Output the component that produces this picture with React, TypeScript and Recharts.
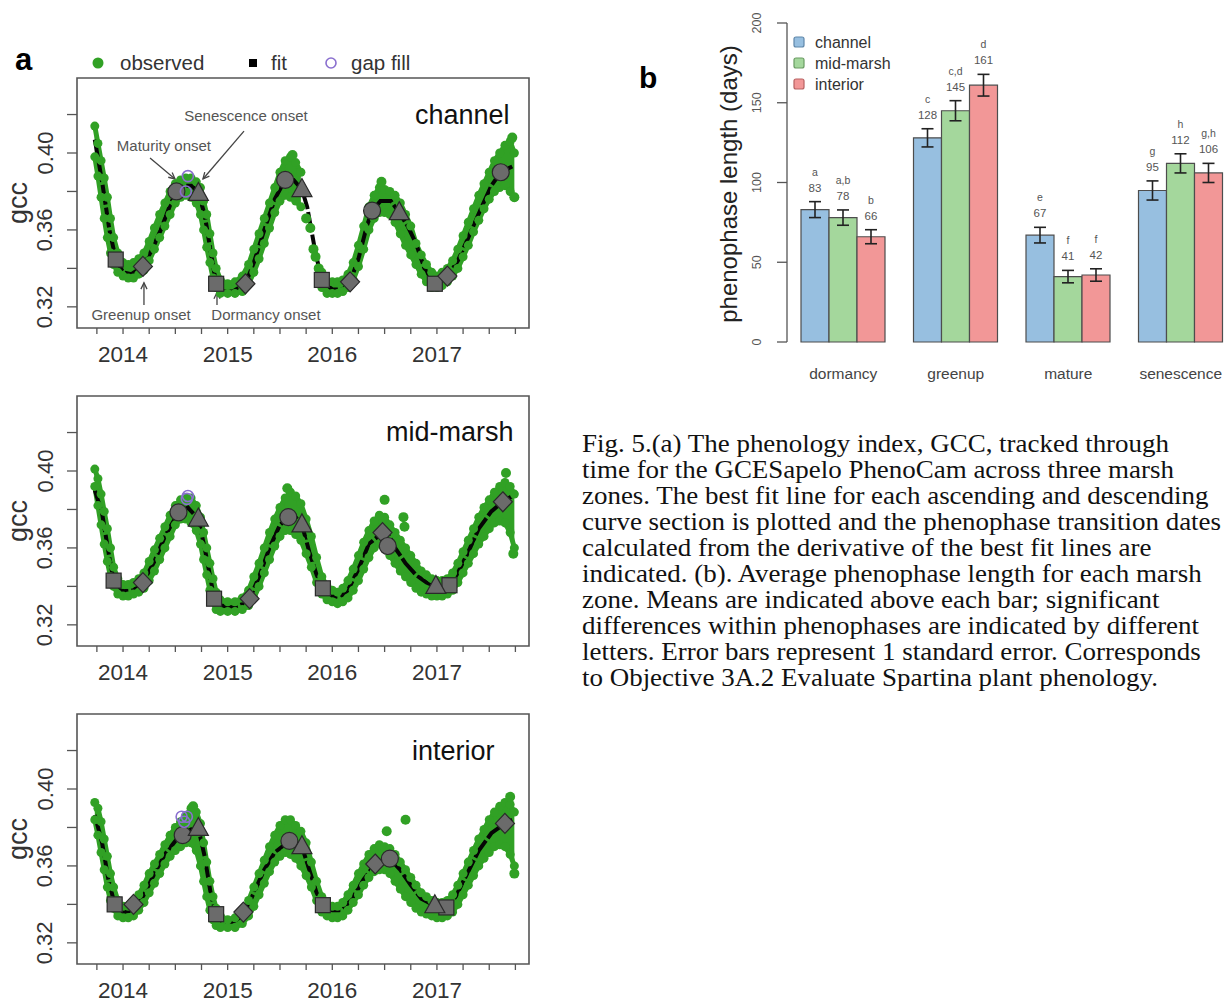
import React from "react";
import {
  ComposedChart,
  Line,
  Area,
  Scatter,
  XAxis,
  YAxis,
  ReferenceArea,
  ReferenceLine,
  ReferenceDot,
  BarChart,
  Bar,
  ErrorBar,
} from "recharts";

type Pt = [number, number];

const FONT = "'Liberation Sans', Arial, Helvetica, sans-serif";
const SERIF = "'Liberation Serif', 'Times New Roman', serif";
const GREEN = "#31a125";
const AXIS = "#555";
const MARK_FILL = "#6b6b6b";
const MARK_STROKE = "#2a2a2a";
const GAP = "#8a6fcf";

// ---- panel a: gcc time series ----
const X_DOMAIN: [number, number] = [2013.56, 2017.88];
const X_TICKS = [
  2013.75, 2014, 2014.25, 2014.5, 2014.75, 2015, 2015.25, 2015.5, 2015.75,
  2016, 2016.25, 2016.5, 2016.75, 2017, 2017.25, 2017.5, 2017.75,
];
const Y_DOMAIN: [number, number] = [0.309, 0.439];
const Y_TICKS = [0.32, 0.34, 0.36, 0.38, 0.4, 0.42];
const Y_LABELED = [0.32, 0.36, 0.4];

const OBS_T = [
  2013.73, 2013.76, 2013.79, 2013.82, 2013.85, 2013.88, 2013.91, 2013.95,
  2014.0, 2014.05, 2014.1, 2014.15, 2014.2, 2014.25, 2014.3, 2014.35, 2014.4,
  2014.45, 2014.5, 2014.55, 2014.6, 2014.65, 2014.7, 2014.74, 2014.77, 2014.8,
  2014.83, 2014.86, 2014.89, 2014.93, 2015.0, 2015.07, 2015.14, 2015.2,
  2015.25, 2015.3, 2015.35, 2015.4, 2015.45, 2015.5, 2015.55, 2015.6, 2015.65,
  2015.7, 2015.75, 2015.8, 2015.85, 2015.9, 2015.95, 2016.0, 2016.05, 2016.1,
  2016.15, 2016.2, 2016.25, 2016.3, 2016.35, 2016.4, 2016.45, 2016.5, 2016.55,
  2016.6, 2016.65, 2016.7, 2016.75, 2016.8, 2016.85, 2016.9, 2016.95, 2017.0,
  2017.05, 2017.1, 2017.15, 2017.2, 2017.25, 2017.3, 2017.35, 2017.4, 2017.45,
  2017.5, 2017.55, 2017.6, 2017.65, 2017.7, 2017.74,
];

const CH_LO = [
  0.398, 0.388, 0.377, 0.366, 0.356, 0.348, 0.342, 0.338, 0.336, 0.335, 0.335,
  0.337, 0.339, 0.344, 0.35, 0.356, 0.362, 0.368, 0.374, 0.377, 0.378, 0.377,
  0.374, 0.368, 0.36, 0.351, 0.343, 0.335, 0.33, 0.327, 0.327, 0.327, 0.328,
  0.332, 0.338, 0.345, 0.353, 0.361, 0.369, 0.375, 0.378, 0.377, 0.375, 0.372,
  null, null, null, 0.33, 0.327, 0.327, 0.327, 0.328, 0.33, 0.334, 0.341, 0.35,
  0.36, 0.366, 0.369, 0.369, 0.368, 0.364, 0.358, 0.352, 0.347, 0.342, 0.337,
  0.333, 0.33, 0.33, 0.331, 0.333, 0.336, 0.34, 0.346, 0.352, 0.359, 0.365,
  0.371, 0.376, 0.38, 0.382, 0.383, 0.38, 0.377,
];
const CH_HI = [
  0.414, 0.405, 0.396, 0.387, 0.377, 0.366, 0.356, 0.348, 0.343, 0.342, 0.343,
  0.345, 0.348, 0.354, 0.361, 0.368, 0.374, 0.38, 0.384, 0.386, 0.387, 0.387,
  0.385, 0.382, 0.375, 0.368, 0.358, 0.348, 0.34, 0.334, 0.332, 0.333, 0.336,
  0.342, 0.35, 0.358, 0.366, 0.374, 0.382, 0.39, 0.396, 0.398, 0.395, 0.39,
  null, null, null, 0.338, 0.333, 0.333, 0.333, 0.334, 0.337, 0.343, 0.352,
  0.362, 0.372, 0.378, 0.382, 0.381, 0.38, 0.378, 0.374, 0.368, 0.362, 0.353,
  0.347, 0.342, 0.338, 0.336, 0.338, 0.34, 0.344, 0.35, 0.357, 0.364, 0.371,
  0.378, 0.384, 0.39, 0.396, 0.4, 0.404, 0.406, 0.4,
];
const CH_EXTRA: Pt[] = [
  [2015.75, 0.366], [2015.79, 0.361], [2015.82, 0.35], [2015.84, 0.346],
  [2015.87, 0.34], [2015.62, 0.399], [2016.47, 0.385], [2017.74, 0.377],
  [2017.72, 0.408],
];
const CH_FIT: Pt[] = [
  [2013.73, 0.407], [2013.8, 0.385], [2013.87, 0.36], [2013.93, 0.345],
  [2014.0, 0.338], [2014.08, 0.337], [2014.19, 0.341], [2014.28, 0.35],
  [2014.36, 0.36], [2014.45, 0.373], [2014.51, 0.38], [2014.58, 0.383],
  [2014.66, 0.383], [2014.72, 0.379], [2014.78, 0.368], [2014.84, 0.348],
  [2014.89, 0.332], [2014.95, 0.328], [2015.05, 0.328], [2015.17, 0.332],
  [2015.25, 0.343], [2015.35, 0.36], [2015.45, 0.376], [2015.55, 0.386],
  [2015.63, 0.386], [2015.71, 0.381], [2015.76, 0.372], [2015.84, 0.348],
  [2015.9, 0.334], [2016.0, 0.329], [2016.1, 0.329], [2016.17, 0.333],
  [2016.25, 0.345], [2016.33, 0.362], [2016.38, 0.37], [2016.46, 0.375],
  [2016.56, 0.375], [2016.64, 0.369], [2016.72, 0.362], [2016.8, 0.353],
  [2016.88, 0.34], [2016.98, 0.332], [2017.05, 0.333], [2017.1, 0.336],
  [2017.2, 0.344], [2017.3, 0.356], [2017.42, 0.371], [2017.52, 0.383],
  [2017.61, 0.39], [2017.72, 0.393],
];
const CH_DORM: Pt[] = [[2013.93, 0.3446], [2014.89, 0.332], [2015.9, 0.334], [2016.98, 0.332]];
const CH_GREEN: Pt[] = [[2014.19, 0.341], [2015.17, 0.332], [2016.17, 0.333], [2017.1, 0.336]];
const CH_MATURE: Pt[] = [[2014.51, 0.38], [2015.55, 0.386], [2016.38, 0.37], [2017.61, 0.39]];
const CH_SENES: Pt[] = [[2014.72, 0.379], [2015.71, 0.381], [2016.64, 0.369]];
const CH_GAP: Pt[] = [[2014.62, 0.388], [2014.6, 0.38]];

const MID_LO = [
  0.392, 0.382, 0.372, 0.362, 0.353, 0.345, 0.34, 0.336, 0.335, 0.335, 0.336,
  0.337, 0.339, 0.343, 0.348, 0.354, 0.36, 0.366, 0.372, 0.375, 0.375, 0.373,
  0.369, 0.362, 0.354, 0.346, 0.338, 0.332, 0.328, 0.327, 0.327, 0.327, 0.328,
  0.33, 0.334, 0.34, 0.347, 0.354, 0.361, 0.366, 0.369, 0.369, 0.367, 0.364,
  0.357, 0.35, 0.342, 0.336, 0.333, 0.332, 0.331, 0.332, 0.334, 0.338, 0.343,
  0.349, 0.355, 0.36, 0.362, 0.36, 0.356, 0.352, 0.348, 0.345, 0.342, 0.339,
  0.337, 0.336, 0.335, 0.335, 0.335, 0.336, 0.338, 0.342, 0.347, 0.352, 0.357,
  0.362, 0.366, 0.37, 0.373, 0.374, 0.373, 0.368, 0.36,
];
const MID_HI = [
  0.401, 0.396, 0.388, 0.379, 0.37, 0.36, 0.35, 0.344, 0.341, 0.341, 0.342,
  0.344, 0.347, 0.353, 0.359, 0.365, 0.371, 0.377, 0.382, 0.385, 0.386, 0.386,
  0.382, 0.376, 0.368, 0.36, 0.352, 0.344, 0.337, 0.333, 0.332, 0.332, 0.334,
  0.338, 0.345, 0.352, 0.36, 0.368, 0.375, 0.381, 0.386, 0.389, 0.387, 0.383,
  0.375, 0.366, 0.355, 0.345, 0.34, 0.338, 0.337, 0.339, 0.343, 0.349, 0.356,
  0.363, 0.369, 0.374, 0.377, 0.376, 0.372, 0.368, 0.364, 0.36, 0.356, 0.352,
  0.348, 0.346, 0.344, 0.343, 0.343, 0.344, 0.347, 0.352, 0.358, 0.364, 0.37,
  0.376, 0.381, 0.385, 0.389, 0.392, 0.394, 0.392, 0.388,
];
const MID_EXTRA: Pt[] = [
  [2016.5, 0.385], [2016.68, 0.376], [2016.69, 0.371], [2017.73, 0.357],
  [2017.66, 0.399], [2015.57, 0.391],
];
const MID_FIT: Pt[] = [
  [2013.73, 0.39], [2013.8, 0.378], [2013.86, 0.358], [2013.91, 0.343],
  [2014.0, 0.3375], [2014.1, 0.338], [2014.19, 0.342], [2014.3, 0.353],
  [2014.4, 0.366], [2014.53, 0.3785], [2014.62, 0.381], [2014.72, 0.375],
  [2014.78, 0.36], [2014.84, 0.343], [2014.87, 0.3336], [2014.95, 0.33],
  [2015.05, 0.329], [2015.15, 0.331], [2015.21, 0.3336], [2015.3, 0.345],
  [2015.4, 0.36], [2015.5, 0.372], [2015.58, 0.376], [2015.65, 0.376],
  [2015.71, 0.372], [2015.78, 0.358], [2015.85, 0.346], [2015.91, 0.339],
  [2016.0, 0.335], [2016.07, 0.3345], [2016.15, 0.338], [2016.25, 0.349],
  [2016.35, 0.362], [2016.48, 0.368], [2016.52, 0.369], [2016.6, 0.36],
  [2016.7, 0.352], [2016.8, 0.346], [2016.9, 0.342], [2016.99, 0.34],
  [2017.12, 0.3406], [2017.2, 0.347], [2017.3, 0.358], [2017.4, 0.37],
  [2017.52, 0.379], [2017.63, 0.384], [2017.72, 0.387],
];
const MID_DORM: Pt[] = [[2013.91, 0.343], [2014.87, 0.3336], [2015.91, 0.339], [2017.12, 0.3406]];
const MID_GREEN: Pt[] = [[2014.19, 0.342], [2015.21, 0.3336], [2016.48, 0.368], [2017.63, 0.384]];
const MID_MATURE: Pt[] = [[2014.53, 0.3785], [2015.58, 0.376], [2016.53, 0.361]];
const MID_SENES: Pt[] = [[2014.72, 0.375], [2015.71, 0.372], [2016.99, 0.34]];
const MID_GAP: Pt[] = [[2014.62, 0.387], [2014.61, 0.3855]];

const INT_LO = [
  0.384, 0.376, 0.367, 0.358, 0.349, 0.342, 0.338, 0.334, 0.333, 0.333, 0.334,
  0.337, 0.341, 0.346, 0.351, 0.356, 0.361, 0.365, 0.368, 0.37, 0.372, 0.372,
  0.368, 0.36, 0.352, 0.344, 0.337, 0.332, 0.329, 0.328, 0.328, 0.328, 0.33,
  0.334, 0.339, 0.345, 0.351, 0.357, 0.362, 0.365, 0.367, 0.366, 0.364, 0.36,
  0.355, 0.349, 0.342, 0.336, 0.334, 0.333, 0.333, 0.334, 0.337, 0.341, 0.345,
  0.35, 0.354, 0.357, 0.358, 0.358, 0.356, 0.352, 0.348, 0.344, 0.341, 0.338,
  0.336, 0.335, 0.334, 0.333, 0.333, 0.334, 0.336, 0.34, 0.345, 0.35, 0.355,
  0.36, 0.364, 0.367, 0.37, 0.371, 0.37, 0.366, 0.36,
];
const INT_HI = [
  0.393, 0.39, 0.383, 0.374, 0.365, 0.356, 0.349, 0.342, 0.339, 0.339, 0.341,
  0.345, 0.35, 0.356, 0.361, 0.366, 0.371, 0.376, 0.38, 0.383, 0.386, 0.39,
  0.388, 0.382, 0.372, 0.362, 0.352, 0.344, 0.338, 0.334, 0.332, 0.333, 0.336,
  0.342, 0.349, 0.356, 0.363, 0.37, 0.376, 0.381, 0.384, 0.384, 0.381, 0.378,
  0.372, 0.362, 0.352, 0.344, 0.34, 0.339, 0.339, 0.341, 0.345, 0.35, 0.356,
  0.361, 0.366, 0.369, 0.371, 0.37, 0.369, 0.366, 0.362, 0.358, 0.354, 0.35,
  0.346, 0.344, 0.342, 0.341, 0.341, 0.342, 0.345, 0.35, 0.356, 0.362, 0.368,
  0.374, 0.379, 0.384, 0.388, 0.391, 0.393, 0.392, 0.388,
];
const INT_EXTRA: Pt[] = [
  [2014.67, 0.391], [2016.52, 0.378], [2016.7, 0.384], [2017.74, 0.356],
  [2017.7, 0.396],
];
const INT_FIT: Pt[] = [
  [2013.73, 0.3865], [2013.8, 0.372], [2013.86, 0.353], [2013.92, 0.34],
  [2014.0, 0.336], [2014.1, 0.337], [2014.2, 0.345], [2014.3, 0.356],
  [2014.4, 0.366], [2014.5, 0.373], [2014.57, 0.376], [2014.65, 0.379],
  [2014.72, 0.3795], [2014.78, 0.365], [2014.84, 0.345], [2014.89, 0.3349],
  [2014.95, 0.331], [2015.05, 0.331], [2015.15, 0.334], [2015.25, 0.346],
  [2015.35, 0.358], [2015.45, 0.367], [2015.59, 0.373], [2015.65, 0.372],
  [2015.71, 0.37], [2015.78, 0.358], [2015.85, 0.346], [2015.91, 0.3396],
  [2016.0, 0.337], [2016.08, 0.337], [2016.18, 0.342], [2016.3, 0.353],
  [2016.41, 0.361], [2016.55, 0.3638], [2016.65, 0.358], [2016.75, 0.35],
  [2016.85, 0.343], [2016.98, 0.3393], [2017.09, 0.3384], [2017.18, 0.344],
  [2017.28, 0.355], [2017.4, 0.368], [2017.52, 0.377], [2017.65, 0.3821],
  [2017.72, 0.384],
];
const INT_DORM: Pt[] = [[2013.92, 0.34], [2014.89, 0.3349], [2015.91, 0.3396], [2017.09, 0.3384]];
const INT_GREEN: Pt[] = [[2014.1, 0.34], [2015.15, 0.336], [2016.41, 0.361], [2017.65, 0.3821]];
const INT_MATURE: Pt[] = [[2014.57, 0.376], [2015.59, 0.373], [2016.55, 0.3638]];
const INT_SENES: Pt[] = [[2014.72, 0.3795], [2015.71, 0.37], [2016.98, 0.3393]];
const INT_GAP: Pt[] = [[2014.56, 0.3856], [2014.61, 0.3856], [2014.585, 0.383]];

// annotations of the channel panel (text centre, arrow tail -> head)
const NOTE_TEXT = ["Senescence onset", "Maturity onset", "Greenup onset", "Dormancy onset"];
const NOTE_POS: Pt[] = [[2015.175, 0.4192], [2014.391, 0.4036], [2014.172, 0.3158], [2015.366, 0.3158]];
const NOTE_ARROWS: [Pt, Pt][] = [
  [[2015.156, 0.4114], [2014.764, 0.3865]],
  [[2014.258, 0.3974], [2014.497, 0.3865]],
  [[2014.2, 0.321], [2014.2, 0.3325]],
  [[2014.898, 0.321], [2014.898, 0.3275]],
];

// ---- panel b: phenophase length ----
const PHASES = ["dormancy", "greenup", "mature", "senescence"];
const CH_MEAN = [83, 128, 67, 95];
const MID_MEAN = [78, 145, 41, 112];
const INT_MEAN = [66, 161, 42, 106];
const CH_SE = [5, 5.7, 4.9, 6];
const MID_SE = [4.8, 6.3, 3.9, 6];
const INT_SE = [4.4, 6.8, 3.9, 6];
const CH_LET = ["a", "c", "e", "g"];
const MID_LET = ["a,b", "c,d", "f", "h"];
const INT_LET = ["b", "d", "f", "g,h"];
const DAY_TICKS = [0, 50, 100, 150, 200];

const CAPTION = [
  "Fig. 5.(a) The phenology index, GCC, tracked through",
  "time for the GCESapelo PhenoCam across three marsh",
  "zones. The best fit line for each ascending and descending",
  "curve section is plotted and the phenophase transition dates",
  "calculated from the derivative of the best fit lines are",
  "indicated. (b). Average phenophase length for each marsh",
  "zone. Means are indicated above each bar; significant",
  "differences within phenophases are indicated by different",
  "letters. Error bars represent 1 standard error. Corresponds",
  "to Objective 3A.2 Evaluate Spartina plant phenology.",
];

const toPts = (arr: Pt[]) => arr.map(([t, g]) => ({ t, g }));

function YearTick(props: any) {
  const { x, y, payload } = props;
  const v = payload.value;
  if (Math.abs(v - Math.round(v)) > 1e-6) return <g />;
  return (
    <text x={x} y={y + 20} textAnchor="middle" dominantBaseline="central" fontSize={22.5} fontFamily={FONT} fill="#333">
      {Math.round(v)}
    </text>
  );
}

function GccTick(props: any) {
  const { x, y, payload } = props;
  const v = payload.value;
  if (!Y_LABELED.some((s) => Math.abs(s - v) < 1e-6)) return <g />;
  const tx = x - 22;
  return (
    <text x={tx} y={y} transform={`rotate(-90 ${tx} ${y})`} textAnchor="middle" dominantBaseline="central" fontSize={22} fontFamily={FONT} fill="#333">
      {v.toFixed(2)}
    </text>
  );
}

const squareShape = (p: any) => (
  <rect x={p.cx - 7.5} y={p.cy - 7.5} width={15} height={15} fill={MARK_FILL} stroke={MARK_STROKE} strokeWidth={1.2} />
);
const circleShape = (p: any) => (
  <circle cx={p.cx} cy={p.cy} r={8.5} fill={MARK_FILL} stroke={MARK_STROKE} strokeWidth={1.2} />
);
const diamondShape = (p: any) => (
  <polygon
    points={`${p.cx},${p.cy - 10} ${p.cx + 9.5},${p.cy} ${p.cx},${p.cy + 10} ${p.cx - 9.5},${p.cy}`}
    fill={MARK_FILL}
    stroke={MARK_STROKE}
    strokeWidth={1.2}
  />
);
const triangleShape = (p: any) => (
  <polygon
    points={`${p.cx},${p.cy - 11} ${p.cx + 10},${p.cy + 7} ${p.cx - 10},${p.cy + 7}`}
    fill={MARK_FILL}
    stroke={MARK_STROKE}
    strokeWidth={1.2}
  />
);
const gapShape = (p: any) => <circle cx={p.cx} cy={p.cy} r={5.5} fill="none" stroke={GAP} strokeWidth={1.6} />;
const obsShape = (p: any) => <circle cx={p.cx} cy={p.cy} r={5} fill={GREEN} />;

function ArrowShape(p: any) {
  const { x1, y1, x2, y2 } = p;
  const a = Math.atan2(y2 - y1, x2 - x1);
  const h = 7;
  const l = `${x2 - h * Math.cos(a - 0.45)},${y2 - h * Math.sin(a - 0.45)}`;
  const r = `${x2 - h * Math.cos(a + 0.45)},${y2 - h * Math.sin(a + 0.45)}`;
  return (
    <g>
      <line x1={x1} y1={y1} x2={x2} y2={y2} stroke="#444" strokeWidth={1.3} />
      <polyline points={`${l} ${x2},${y2} ${r}`} fill="none" stroke="#444" strokeWidth={1.3} />
    </g>
  );
}

interface PanelProps {
  lo: (number | null)[];
  hi: (number | null)[];
  extra: Pt[];
  fit: Pt[];
  dorm: Pt[];
  green: Pt[];
  mature: Pt[];
  senes: Pt[];
  gap: Pt[];
  notes?: boolean;
}

function GccPanel({ lo, hi, extra, fit, dorm, green, mature, senes, gap, notes }: PanelProps) {
  const loData = OBS_T.map((t, i) => ({ t, g: lo[i] }));
  const hiData = OBS_T.map((t, i) => ({ t, g: hi[i] }));
  const rangeData = OBS_T.map((t, i) => ({
    t,
    r: lo[i] == null || hi[i] == null ? null : [lo[i], hi[i]],
  }));
  const edge = {
    type: "linear" as const,
    dataKey: "g",
    stroke: GREEN,
    strokeWidth: 5,
    strokeLinejoin: "round" as const,
    strokeLinecap: "round" as const,
    dot: { r: 4.5, fill: GREEN, stroke: "none" },
    activeDot: false,
    connectNulls: false,
    isAnimationActive: false,
  };
  return (
    <ComposedChart width={560} height={340} margin={{ top: 40, right: 31, bottom: 0, left: 76 }}>
      <XAxis
        type="number"
        dataKey="t"
        domain={X_DOMAIN}
        ticks={X_TICKS}
        interval={0}
        allowDataOverflow
        axisLine={false}
        tickSize={6}
        tickMargin={0}
        tickLine={{ stroke: AXIS, strokeWidth: 1.3 }}
        height={50}
        tick={<YearTick />}
      />
      <YAxis
        type="number"
        dataKey="g"
        domain={Y_DOMAIN}
        ticks={Y_TICKS}
        interval={0}
        allowDataOverflow
        width={1}
        axisLine={false}
        tickSize={10}
        tickMargin={0}
        tickLine={{ stroke: AXIS, strokeWidth: 1.3 }}
        tick={<GccTick />}
      />
      <Area
        data={rangeData}
        dataKey="r"
        type="linear"
        fill={GREEN}
        fillOpacity={1}
        stroke="none"
        connectNulls={false}
        activeDot={false}
        isAnimationActive={false}
      />
      <Line data={loData} {...edge} />
      <Line data={hiData} {...edge} />
      <Scatter data={toPts(extra)} shape={obsShape} isAnimationActive={false} />
      <Line
        data={toPts(fit)}
        dataKey="g"
        type="linear"
        stroke="#050505"
        strokeWidth={4}
        strokeDasharray="20 3"
        dot={false}
        activeDot={false}
        isAnimationActive={false}
      />
      <Scatter data={toPts(dorm)} shape={squareShape} isAnimationActive={false} />
      <Scatter data={toPts(green)} shape={diamondShape} isAnimationActive={false} />
      <Scatter data={toPts(mature)} shape={circleShape} isAnimationActive={false} />
      <Scatter data={toPts(senes)} shape={triangleShape} isAnimationActive={false} />
      <Scatter data={toPts(gap)} shape={gapShape} isAnimationActive={false} />
      {notes &&
        NOTE_ARROWS.map(([a, b], i) => (
          <ReferenceLine
            key={`ar${i}`}
            segment={[
              { x: a[0], y: a[1] },
              { x: b[0], y: b[1] },
            ]}
            shape={ArrowShape}
            ifOverflow="visible"
          />
        ))}
      {notes &&
        NOTE_POS.map(([t, g], i) => (
          <ReferenceDot
            key={`nt${i}`}
            x={t}
            y={g}
            r={0}
            fill="none"
            stroke="none"
            ifOverflow="visible"
            label={{ value: NOTE_TEXT[i], position: "center", fill: "#555", fontSize: 15, fontFamily: FONT }}
          />
        ))}
      <ReferenceArea
        x1={X_DOMAIN[0]}
        x2={X_DOMAIN[1]}
        y1={Y_DOMAIN[0]}
        y2={Y_DOMAIN[1]}
        fill="none"
        stroke={AXIS}
        strokeWidth={1.6}
        ifOverflow="visible"
      />
    </ComposedChart>
  );
}

// ---- bar chart helpers ----
const PLOT_B_H = 319;
const PX_PER_DAY = PLOT_B_H / 200;

function makeBarLabel(means: number[], se: number[], letters: string[]) {
  return (p: any) => {
    const vb = p.viewBox || p;
    const idx = typeof p.index === "number" ? p.index : means.indexOf(p.value);
    if (idx < 0) return <g />;
    const cx = vb.x + vb.width / 2;
    const top = Math.min(vb.y, vb.y + vb.height) - se[idx] * PX_PER_DAY;
    return (
      <g fontFamily={FONT} fill="#555" textAnchor="middle">
        <text x={cx} y={top - 10} fontSize={11.5}>
          {means[idx]}
        </text>
        <text x={cx} y={top - 26} fontSize={10.5}>
          {letters[idx]}
        </text>
      </g>
    );
  };
}

function PhaseTick(props: any) {
  const { x, y, payload } = props;
  return (
    <text x={x} y={y + 31} textAnchor="middle" dominantBaseline="central" fontSize={15.5} fontFamily={FONT} fill="#444">
      {payload.value}
    </text>
  );
}

function DaysTick(props: any) {
  const { x, y, payload } = props;
  const tx = x - 20;
  return (
    <text x={tx} y={y} transform={`rotate(-90 ${tx} ${y})`} textAnchor="middle" dominantBaseline="central" fontSize={12.5} fontFamily={FONT} fill="#555">
      {payload.value}
    </text>
  );
}

function PhaseBars() {
  const data = PHASES.map((phase, i) => ({
    phase,
    ch: CH_MEAN[i],
    chSe: CH_SE[i],
    mid: MID_MEAN[i],
    midSe: MID_SE[i],
    int: INT_MEAN[i],
    intSe: INT_SE[i],
  }));
  const err = { width: 6, stroke: "#222", strokeWidth: 1.6, direction: "y" as const };
  return (
    <BarChart
      width={560}
      height={382}
      data={data}
      margin={{ top: 23, right: 3, bottom: 0, left: 106 }}
      barCategoryGap={14}
      barGap={0}
    >
      <XAxis dataKey="phase" axisLine={false} tickLine={false} tickSize={0} tickMargin={0} height={40} interval={0} tick={<PhaseTick />} />
      <YAxis
        domain={[0, 200]}
        ticks={DAY_TICKS}
        interval={0}
        width={1}
        tickSize={10}
        tickMargin={0}
        axisLine={{ stroke: AXIS, strokeWidth: 1.3 }}
        tickLine={{ stroke: AXIS, strokeWidth: 1.3 }}
        tick={<DaysTick />}
      />
      <Bar dataKey="ch" fill="#97bfe0" stroke="#4d4d4d" strokeWidth={1.2} isAnimationActive={false} label={makeBarLabel(CH_MEAN, CH_SE, CH_LET)}>
        <ErrorBar dataKey="chSe" {...err} />
      </Bar>
      <Bar dataKey="mid" fill="#a4d79c" stroke="#4d4d4d" strokeWidth={1.2} isAnimationActive={false} label={makeBarLabel(MID_MEAN, MID_SE, MID_LET)}>
        <ErrorBar dataKey="midSe" {...err} />
      </Bar>
      <Bar dataKey="int" fill="#f29797" stroke="#4d4d4d" strokeWidth={1.2} isAnimationActive={false} label={makeBarLabel(INT_MEAN, INT_SE, INT_LET)}>
        <ErrorBar dataKey="intSe" {...err} />
      </Bar>
    </BarChart>
  );
}

function Overlay() {
  const zoneNames = [
    { name: "channel", x: 415, y: 124 },
    { name: "mid-marsh", x: 386, y: 441 },
    { name: "interior", x: 412, y: 760 },
  ];
  const gccCenters = [203, 521, 839];
  const legB = [
    { name: "channel", fill: "#97bfe0", stroke: "#5f87aa" },
    { name: "mid-marsh", fill: "#a4d79c", stroke: "#6a9c63" },
    { name: "interior", fill: "#f29797", stroke: "#b86262" },
  ];
  return (
    <svg width={1228} height={1003} style={{ position: "absolute", left: 0, top: 0, pointerEvents: "none" }}>
      <g fontFamily={FONT}>
        <text x={15} y={70} fontSize={31} fontWeight="bold" fill="#000">a</text>
        <text x={639} y={88} fontSize={30} fontWeight="bold" fill="#000">b</text>

        <circle cx={98} cy={63} r={5.5} fill={GREEN} />
        <text x={120} y={70} fontSize={20.5} fill="#333">observed</text>
        <rect x={249} y={59} width={8} height={8} fill="#000" />
        <text x={271} y={70} fontSize={20.5} fill="#333">fit</text>
        <circle cx={331} cy={63} r={5} fill="none" stroke={GAP} strokeWidth={1.6} />
        <text x={351} y={70} fontSize={20.5} fill="#333">gap fill</text>

        {zoneNames.map((z) => (
          <text key={z.name} x={z.x} y={z.y} fontSize={27} fill="#111">{z.name}</text>
        ))}
        {gccCenters.map((cy) => (
          <text key={cy} x={18} y={cy} transform={`rotate(-90 18 ${cy})`} textAnchor="middle" dominantBaseline="central" fontSize={27} fill="#333">
            gcc
          </text>
        ))}

        <text x={728} y={184} transform="rotate(-90 728 184)" textAnchor="middle" dominantBaseline="central" fontSize={24} fill="#222">
          phenophase length (days)
        </text>
        {legB.map((l, i) => (
          <g key={l.name}>
            <rect x={794} y={37 + i * 21} width={10} height={10} rx={2} fill={l.fill} stroke={l.stroke} strokeWidth={1.2} />
            <text x={815} y={48 + i * 21} fontSize={16} fill="#333">{l.name}</text>
          </g>
        ))}
      </g>
      <g transform="translate(582,0) scale(1.1,1)" fontFamily={SERIF} fontSize={24.5} fill="#111">
        {CAPTION.map((line, i) => (
          <text key={i} x={0} y={452 + i * 26}>{line}</text>
        ))}
      </g>
    </svg>
  );
}

export default function App() {
  return (
    <div style={{ position: "relative", width: 1228, height: 1003, overflow: "hidden", background: "#fff", fontFamily: FONT }}>
      <style>{"body{margin:0;overflow:hidden}"}</style>
      <div style={{ position: "absolute", left: 0, top: 38 }}>
        <GccPanel lo={CH_LO} hi={CH_HI} extra={CH_EXTRA} fit={CH_FIT} dorm={CH_DORM} green={CH_GREEN} mature={CH_MATURE} senes={CH_SENES} gap={CH_GAP} notes />
      </div>
      <div style={{ position: "absolute", left: 0, top: 356 }}>
        <GccPanel lo={MID_LO} hi={MID_HI} extra={MID_EXTRA} fit={MID_FIT} dorm={MID_DORM} green={MID_GREEN} mature={MID_MATURE} senes={MID_SENES} gap={MID_GAP} />
      </div>
      <div style={{ position: "absolute", left: 0, top: 674 }}>
        <GccPanel lo={INT_LO} hi={INT_HI} extra={INT_EXTRA} fit={INT_FIT} dorm={INT_DORM} green={INT_GREEN} mature={INT_MATURE} senes={INT_SENES} gap={INT_GAP} />
      </div>
      <div style={{ position: "absolute", left: 680, top: 0 }}>
        <PhaseBars />
      </div>
      <Overlay />
    </div>
  );
}
